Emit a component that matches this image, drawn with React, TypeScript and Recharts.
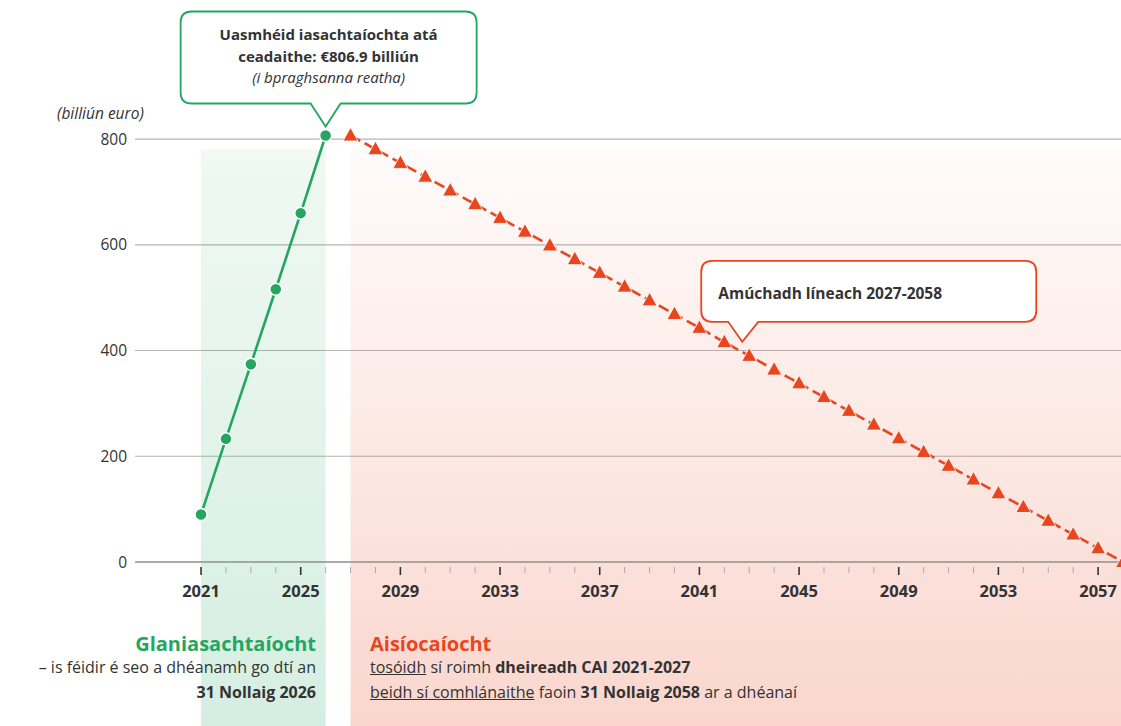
import React from 'react';
import {
  LineChart,
  Line,
  XAxis,
  YAxis,
  CartesianGrid,
  ReferenceArea,
  ReferenceDot
} from 'recharts';

// years on the axis and the two series (billion euro)
const years = [
  2021, 2022, 2023, 2024, 2025, 2026, 2027, 2028, 2029, 2030, 2031, 2032, 2033,
  2034, 2035, 2036, 2037, 2038, 2039, 2040, 2041, 2042, 2043, 2044, 2045, 2046,
  2047, 2048, 2049, 2050, 2051, 2052, 2053, 2054, 2055, 2056, 2057, 2058
];
const borrowingYears = [2021, 2022, 2023, 2024, 2025, 2026];
const borrowing = [90, 233, 374, 516, 660, 806.9];
const repaymentYears = years.slice(6);
const repayment = [
  806.9, 781, 755, 729, 703, 677, 651, 625, 599, 573, 547, 521, 495, 469, 443,
  416, 390, 364, 338, 312, 286, 260, 234, 208, 182, 156, 130, 104, 78, 52, 26, 0
];
const xTicks = years.slice(0, 37);
const yTicks = [0, 200, 400, 600, 800];
const Y_MAX = 840;

const GREEN = '#25a660';
const RED = '#e8461e';
const TEXT = '#333333';
const FONT = '"Open Sans", sans-serif';

const data = years.map((year) => {
  const b = borrowingYears.indexOf(year);
  const r = repaymentYears.indexOf(year);
  return {
    year,
    borrowing: b >= 0 ? borrowing[b] : null,
    repayment: r >= 0 ? repayment[r] : null
  };
});

const YearTick = ({ x, y, payload }: any) => {
  const major = (payload.value - 2021) % 4 === 0;
  return (
    <g>
      <line
        x1={x}
        x2={x}
        y1={y - 3}
        y2={y + (major ? 5 : 3)}
        stroke={major ? '#333' : '#aaa'}
        strokeWidth={major ? 1.6 : 1}
      />
      {major && (
        <text x={x} y={y + 27} textAnchor="middle" fill={TEXT} fontFamily={FONT} fontWeight={700} fontSize={16.5}>
          {payload.value}
        </text>
      )}
    </g>
  );
};

const GreenDot = ({ cx, cy, value }: any) => {
  if (value == null || cy == null) return null;
  return <circle cx={cx} cy={cy} r={6} fill={GREEN} stroke="#fff" strokeWidth={1.5} />;
};

const RedTriangle = ({ cx, cy, value }: any) => {
  if (value == null || cy == null) return null;
  return (
    <path
      d={`M${cx},${cy - 8} L${cx + 7.5},${cy + 5.5} L${cx - 7.5},${cy + 5.5} Z`}
      fill={RED}
      stroke="#fff"
      strokeWidth={0.8}
    />
  );
};

// band shape: starts at the area's top and runs down past the axis to the page bottom
const Band = (id: string) => (props: any) => {
  const { x, y, width } = props;
  return <rect x={x} y={y} width={width} height={726 - y} fill={`url(#${id})`} />;
};

function bubble(L: number, R: number, T: number, B: number, p1: number, p2: number, tx: number, ty: number) {
  const r = 11;
  return `M${L + r},${T} H${R - r} Q${R},${T} ${R},${T + r} V${B - r} Q${R},${B} ${R - r},${B} H${p2} L${tx},${ty} L${p1},${B} H${L + r} Q${L},${B} ${L},${B - r} V${T + r} Q${L},${T} ${L + r},${T} Z`;
}

const PeakCallout = ({ cx, cy }: any) => (
  <g>
    <path d={bubble(cx - 145, cx + 151, cy - 124, cy - 32, cx - 15, cx + 15, cx, cy - 9)} fill="#fff" stroke={GREEN} strokeWidth={1.8} />
    <text textAnchor="middle" fill={TEXT} fontFamily={FONT} fontSize={15}>
      <tspan x={cx + 3} y={cy - 95} fontWeight={700}>Uasmhéid iasachtaíochta atá</tspan>
      <tspan x={cx + 3} y={cy - 73} fontWeight={700}>ceadaithe: €806.9 billiún</tspan>
      <tspan x={cx + 3} y={cy - 52} fontStyle="italic">(i bpraghsanna reatha)</tspan>
    </text>
  </g>
);

const LinearCallout = ({ cx, cy }: any) => (
  <g>
    <path d={bubble(cx - 48, cx + 287, cy - 95, cy - 34, cx - 21, cx + 9, cx - 7, cy - 14)} fill="#fff" stroke={RED} strokeWidth={1.8} />
    <text x={cx - 31} y={cy - 57} fill={TEXT} fontFamily={FONT} fontSize={15.5} fontWeight={700}>
      Amúchadh líneach 2027-2058
    </text>
  </g>
);

// grid only at the labelled ticks, not at the top of the padded domain
const gridRows = ({ offset }: any) =>
  yTicks.map((t) => offset.top + offset.height * (1 - t / Y_MAX));

export default function App() {
  const line = { position: 'absolute' as const, whiteSpace: 'nowrap' as const, fontFamily: FONT, color: TEXT, fontSize: 16, lineHeight: '24px' };
  return (
    <div style={{ position: 'fixed', left: 0, top: 0, width: 1121, height: 726, overflow: 'hidden', background: '#fff' }}>
      <LineChart width={1123} height={726} data={data} margin={{ top: 118, right: 0, bottom: 134, left: 0 }}>
        <defs>
          {/* translucent tints so the grid lines still show through the bands */}
          <linearGradient id="greenBand" x1="0" y1="0" x2="0" y2="1">
            <stop offset="0%" stopColor={GREEN} stopOpacity={0.07} />
            <stop offset="100%" stopColor={GREEN} stopOpacity={0.19} />
          </linearGradient>
          <linearGradient id="redBand" x1="0" y1="0" x2="0" y2="1">
            <stop offset="0%" stopColor={RED} stopOpacity={0.02} />
            <stop offset="100%" stopColor={RED} stopOpacity={0.22} />
          </linearGradient>
        </defs>
        <ReferenceArea x1={2021} x2={2026} y1={0} y2={780} shape={Band('greenBand')} />
        <ReferenceArea x1={2027} x2={2058} y1={0} y2={780} shape={Band('redBand')} />
        <CartesianGrid
          vertical={false}
          stroke="#b5b5b5"
          strokeWidth={1.1}
          horizontalCoordinatesGenerator={gridRows}
        />
        <XAxis
          dataKey="year"
          type="number"
          domain={[2018.35, 2058]}
          ticks={xTicks}
          interval={0}
          height={30}
          tickLine={false}
          axisLine={{ stroke: '#9a9a9a', strokeWidth: 1.6 }}
          tick={<YearTick />}
        />
        <YAxis
          width={135}
          domain={[0, Y_MAX]}
          ticks={yTicks}
          tickLine={false}
          axisLine={false}
          tick={{ fill: TEXT, fontSize: 15.5, fontFamily: FONT }}
        />
        <Line
          dataKey="borrowing"
          stroke={GREEN}
          strokeWidth={2.6}
          dot={<GreenDot />}
          isAnimationActive={false}
        />
        <Line
          dataKey="repayment"
          stroke={RED}
          strokeWidth={2.6}
          strokeDasharray="11 5"
          dot={<RedTriangle />}
          isAnimationActive={false}
        />
        <ReferenceDot x={2026} y={806.9} shape={PeakCallout} />
        <ReferenceDot x={2043} y={390} shape={LinearCallout} />
      </LineChart>

      <div style={{ ...line, left: 57, top: 101, fontSize: 15.5, fontStyle: 'italic' }}>(billiún euro)</div>

      <div style={{ ...line, right: 805, top: 632, fontSize: 20, fontWeight: 700, color: GREEN }}>Glaniasachtaíocht</div>
      <div style={{ ...line, right: 805, top: 655 }}>– is féidir é seo a dhéanamh go dtí an</div>
      <div style={{ ...line, right: 805, top: 680, fontWeight: 700 }}>31 Nollaig 2026</div>

      <div style={{ ...line, left: 370, top: 632, fontSize: 20, fontWeight: 700, color: RED }}>Aisíocaíocht</div>
      <div style={{ ...line, left: 370, top: 655 }}>
        <u>tosóidh</u> sí roimh <b>dheireadh CAI 2021-2027</b>
      </div>
      <div style={{ ...line, left: 370, top: 680 }}>
        <u>beidh sí comhlánaithe</u> faoin <b>31 Nollaig 2058</b> ar a dhéanaí
      </div>
    </div>
  );
}
